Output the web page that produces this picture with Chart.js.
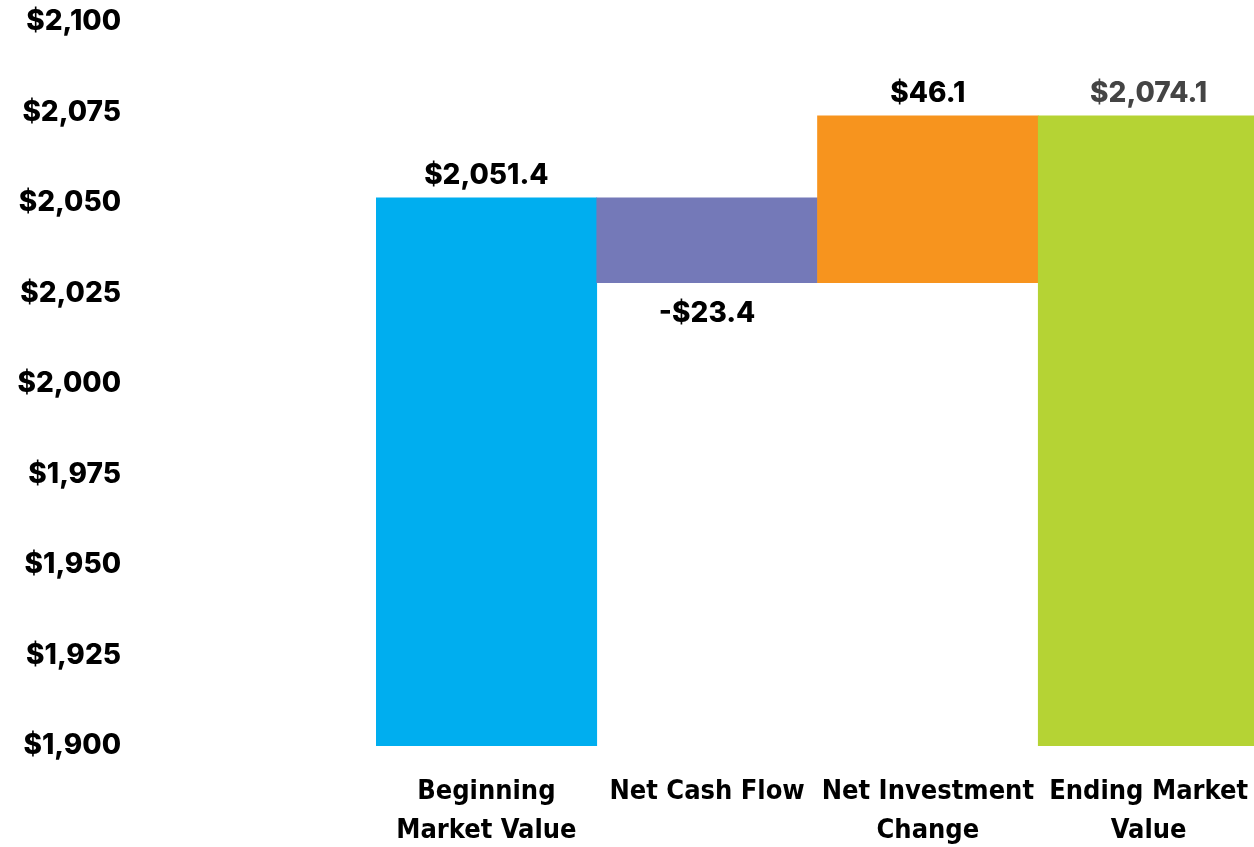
<!DOCTYPE html>
<html>
<head>
<meta charset="utf-8">
<script src="https://cdn.jsdelivr.net/npm/chart.js@4"></script>
<style>
  html, body { margin: 0; padding: 0; background: #fff; overflow: hidden; width: 1254px; height: 847px; }
  canvas { display: block; }
</style>
</head>
<body>
<!-- last bar runs slightly past the right edge in the original, so the canvas is a bit wider than the page -->
<canvas id="chart" width="1259" height="847"></canvas>
<script>
const categories = [
  ["Beginning", "Market Value"],
  "Net Cash Flow",
  ["Net Investment", "Change"],
  ["Ending Market", "Value"]
];
const changes = [2051.4, -23.4, 46.1, 2074.1];
const isTotal = [true, false, false, true];
const valueLabels = ["$2,051.4", "-$23.4", "$46.1", "$2,074.1"];
const labelColors = ["#000000", "#000000", "#000000", "#444444"];
const barColors = ["#00AEEF", "#7479B8", "#F7941E", "#B5D334"];
const yMin = 1900, yMax = 2100, yStep = 25;

// floating bars for the waterfall
let running = 0;
const floats = changes.map((v, i) => {
  if (isTotal[i]) { running = v; return [yMin, v]; }
  const start = running;
  running = start + v;
  return [start, running];
});

const numFont = "Inter, Lato, sans-serif";

const valueLabelPlugin = {
  id: "valueLabels",
  afterDatasetsDraw(chart) {
    const ctx = chart.ctx;
    const meta = chart.getDatasetMeta(0);
    ctx.save();
    ctx.font = "800 28px " + numFont;
    ctx.textAlign = "center";
    ctx.textBaseline = "middle";
    meta.data.forEach((bar, i) => {
      const top = Math.min(bar.y, bar.base);
      const bottom = Math.max(bar.y, bar.base);
      const y = changes[i] < 0 ? bottom + 31 : top - 22;
      ctx.fillStyle = labelColors[i];
      ctx.fillText(valueLabels[i], bar.x, y);
    });
    ctx.restore();
  }
};

new Chart(document.getElementById("chart"), {
  type: "bar",
  data: {
    labels: categories,
    datasets: [{
      data: floats,
      backgroundColor: barColors,
      borderWidth: 0,
      barPercentage: 1,
      categoryPercentage: 1
    }]
  },
  options: {
    responsive: false,
    animation: false,
    layout: { padding: { top: 22, right: 0, bottom: 0, left: 0 } },
    plugins: { legend: { display: false }, tooltip: { enabled: false } },
    scales: {
      x: {
        grid: { display: false, drawTicks: false },
        border: { display: false },
        ticks: {
          color: "#000",
          padding: 27,
          maxRotation: 0,
          autoSkip: false,
          font: { family: "'DejaVu Sans Condensed', 'Liberation Sans Narrow', sans-serif", size: 27, weight: "bold", lineHeight: 1.42 }
        },
        afterFit(scale) {
          scale.height = 101;
          scale.paddingLeft = 0;
          scale.paddingRight = 0;
        }
      },
      y: {
        min: yMin,
        max: yMax,
        grid: { display: false, drawTicks: false },
        border: { display: false },
        ticks: {
          stepSize: yStep,
          color: "#000",
          padding: 255,
          font: { family: numFont, size: 28, weight: "800" },
          callback: (v) => "$" + v.toLocaleString("en-US")
        },
        afterFit(scale) {
          scale.width = 376;
          scale.paddingTop = 0;
          scale.paddingBottom = 0;
        }
      }
    }
  },
  plugins: [valueLabelPlugin]
});
</script>
</body>
</html>
